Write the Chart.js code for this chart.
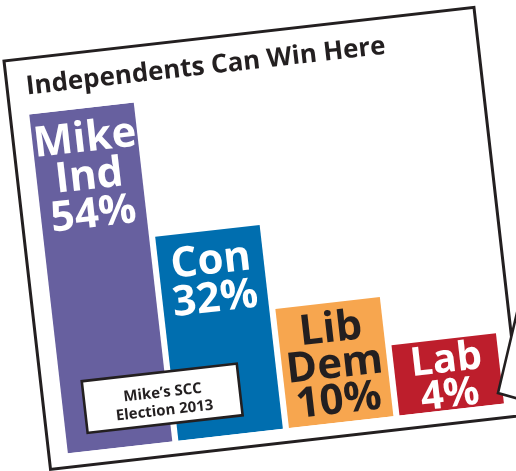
<!DOCTYPE html>
<html><head><meta charset="utf-8">
<script src="https://cdn.jsdelivr.net/npm/chart.js@4"></script>
<style>html,body{margin:0;padding:0;background:#fff;overflow:hidden}canvas{display:block}</style>
</head><body>
<canvas id="c" width="516" height="471"></canvas>
<script>
// ---- data ----
const categories = ["Mike Ind", "Con", "Lib Dem", "Lab"];
const labelLines = [["Mike", "Ind"], ["Con"], ["Lib", "Dem"], ["Lab"]];
const shares = [54, 32, 10, 4];              // printed percentages
const barHeights = [54, 32.5, 19, 11.2];     // drawn bar heights
const barColors = ["#67609f", "#006eaf", "#f7a64f", "#bd1e2c"];
const textColors = ["#ffffff", "#ffffff", "#231f20", "#ffffff"];
const titleText = "Independents Can Win Here";
const noteLines = ["Mike\u2019s SCC", "Election 2013"];

// ---- styling / layout ----
const ANGLE = -6.5 * Math.PI / 180;
const ORIGIN = { x: 4, y: 61 };
const CARD = { w: 473, h: 411 };
const INK = "#231f20";
const FONT = "'Open Sans', Lato, sans-serif";
const LABEL_STYLE = { size: [42, 42, 42, 40], first: [43, 43, 39, 33], gap: [38, 38, 36, 35] };

const cardPlugin = {
  id: 'card',
  beforeDraw(chart) {
    const ctx = chart.ctx;
    ctx.save();
    ctx.fillStyle = '#fff';
    ctx.fillRect(0, 0, chart.width, chart.height);
    ctx.translate(ORIGIN.x, ORIGIN.y);
    ctx.rotate(ANGLE);
    ctx.fillStyle = '#fff';
    ctx.fillRect(0, 0, CARD.w, CARD.h);
    ctx.lineWidth = 3;
    ctx.strokeStyle = INK;
    ctx.strokeRect(0, 0, CARD.w, CARD.h);
    ctx.fillStyle = INK;
    ctx.font = `bold 26px ${FONT}`;
    ctx.textAlign = 'left';
    ctx.textBaseline = 'alphabetic';
    ctx.fillText(titleText, 19, 36);
  },
  afterDatasetsDraw(chart) {
    const ctx = chart.ctx;
    const meta = chart.getDatasetMeta(0);
    ctx.save();
    ctx.textAlign = 'center';
    ctx.textBaseline = 'alphabetic';
    meta.data.forEach((bar, i) => {
      const lines = [...labelLines[i], shares[i] + '%'];
      ctx.fillStyle = textColors[i];
      ctx.font = `bold ${LABEL_STYLE.size[i]}px ${FONT}`;
      lines.forEach((t, j) => ctx.fillText(t, bar.x, bar.y + LABEL_STYLE.first[i] + j * LABEL_STYLE.gap[i]));
    });
    // note box
    ctx.fillStyle = '#fff';
    ctx.fillRect(41, 327, 156, 52);
    ctx.lineWidth = 2.6;
    ctx.strokeStyle = INK;
    ctx.strokeRect(41, 327, 156, 52);
    ctx.fillStyle = INK;
    ctx.font = `bold 15px ${FONT}`;
    ctx.fillText(noteLines[0], 120, 352);
    ctx.fillText(noteLines[1], 120, 370);
    ctx.restore();
  },
  afterDraw(chart) {
    const ctx = chart.ctx;
    ctx.restore();
    // pointer tail of a neighbouring callout
    ctx.save();
    ctx.fillStyle = '#fff';
    ctx.beginPath();
    ctx.moveTo(520, 300);
    ctx.lineTo(498, 393);
    ctx.lineTo(530, 402);
    ctx.lineTo(530, 300);
    ctx.closePath();
    ctx.fill();
    ctx.beginPath();
    ctx.moveTo(520, 300);
    ctx.lineTo(498, 393);
    ctx.lineTo(530, 402);
    ctx.lineWidth = 2.6;
    ctx.strokeStyle = INK;
    ctx.lineJoin = 'miter';
    ctx.stroke();
    ctx.restore();
  }
};

new Chart(document.getElementById('c'), {
  type: 'bar',
  data: {
    labels: categories,
    datasets: [{
      data: barHeights,
      backgroundColor: barColors,
      borderWidth: 0,
      barPercentage: 0.945,
      categoryPercentage: 1
    }]
  },
  options: {
    responsive: false,
    animation: false,
    events: [],
    layout: { padding: { left: 16, right: 55, top: 56, bottom: 74 } },
    plugins: { legend: { display: false }, tooltip: { enabled: false }, title: { display: false } },
    scales: {
      x: { display: false },
      y: { display: false, min: 0, max: 54 }
    }
  },
  plugins: [cardPlugin]
});
</script>
</body></html>
